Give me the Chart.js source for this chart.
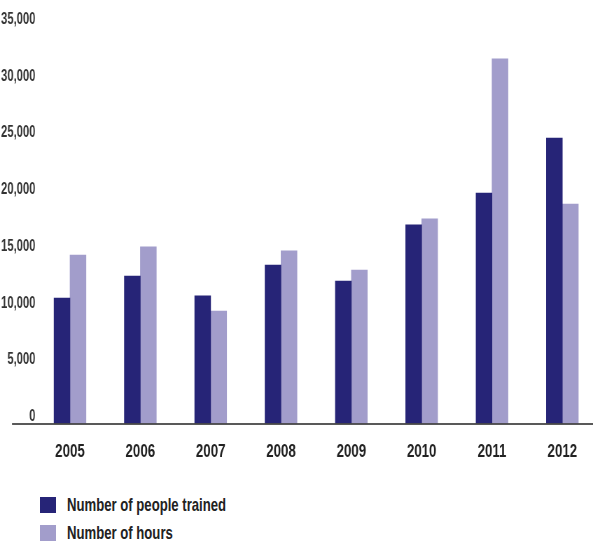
<!DOCTYPE html>
<html>
<head>
<meta charset="utf-8">
<script src="https://cdn.jsdelivr.net/npm/chart.js@4/dist/chart.umd.min.js"></script>
<style>
  html, body { margin: 0; padding: 0; background: #fff; overflow: hidden; }
  body { width: 593px; height: 544px; position: relative; font-family: "Liberation Sans", Arial, sans-serif; }
  /* the canvas is drawn wider and squeezed to 600px, which gives the condensed lettering of the original */
  #trainingChart { position: absolute; left: 0; top: 0; width: 600px; height: 470px; }
  .legend { position: absolute; left: 40px; top: 497px; color: #222; font-size: 18.5px; font-weight: bold; }
  .legend .item { position: relative; height: 16px; margin-bottom: 12px; }
  .legend .box { position: absolute; left: 0; top: 0; width: 16px; height: 16px; }
  .legend .txt { position: absolute; left: 27px; top: -3px; line-height: 22px; white-space: nowrap; transform: scaleX(0.71); transform-origin: left center; }
</style>
</head>
<body>
<canvas id="trainingChart" width="857" height="470" style="width:600px;height:470px"></canvas>
<div class="legend" id="legend"></div>
<script>
const years = ['2005', '2006', '2007', '2008', '2009', '2010', '2011', '2012'];
const peopleTrained = [11070, 13010, 11250, 13980, 12570, 17510, 20330, 25180];
const hoursTrained = [14860, 15570, 9920, 15220, 13540, 18040, 32150, 19360];
const seriesNames = ['Number of people trained', 'Number of hours'];
const seriesColors = ['#262477', '#a29dcb'];

const FONT = '"Liberation Sans", Arial, sans-serif';
const K = 600 / 857; // horizontal squeeze of the canvas

// long baseline under the bars, starts left of the plot like the original
const baseline = {
    id: 'baseline',
    afterDatasetsDraw(chart) {
        const y = chart.scales.y.getPixelForValue(0);
        const ctx = chart.ctx;
        ctx.save();
        ctx.strokeStyle = '#222';
        ctx.lineWidth = 1.5;
        ctx.beginPath();
        ctx.moveTo(12 / K, y + 0.5);
        ctx.lineTo(chart.width, y + 0.5);
        ctx.stroke();
        ctx.restore();
    }
};

const chart = new Chart(document.getElementById('trainingChart'), {
    type: 'bar',
    data: {
        labels: years,
        datasets: [
            { label: seriesNames[0], data: peopleTrained, backgroundColor: seriesColors[0] },
            { label: seriesNames[1], data: hoursTrained, backgroundColor: seriesColors[1] }
        ]
    },
    options: {
        responsive: false,
        animation: false,
        barThickness: 16 / K,
        layout: { padding: { top: 26.6, right: 857 - 597.5 / K, left: 0, bottom: 0 } },
        plugins: {
            legend: { display: false },
            tooltip: { enabled: false }
        },
        scales: {
            x: {
                grid: { display: false },
                border: { display: false },
                ticks: { color: '#222', font: { family: FONT, size: 19, weight: 'bold' }, padding: 9 },
                afterFit(scale) { scale.height = 46.5; }
            },
            y: {
                min: 0,
                max: 35000,
                grid: { display: false },
                border: { display: false },
                ticks: {
                    stepSize: 5000,
                    color: '#333',
                    padding: -(41 - 34.83) / K,
                    labelOffset: -7,
                    font: { family: FONT, size: 16, weight: 'bold' },
                    callback: v => v.toLocaleString('en-US')
                },
                afterFit(scale) { scale.width = 34.83 / K; }
            }
        }
    },
    plugins: [baseline]
});

const legendEl = document.getElementById('legend');
seriesNames.forEach((name, i) => {
    const item = document.createElement('div');
    item.className = 'item';
    item.innerHTML = '<span class="box" style="background:' + seriesColors[i] + '"></span><span class="txt">' + name + '</span>';
    legendEl.appendChild(item);
});
</script>
</body>
</html>
